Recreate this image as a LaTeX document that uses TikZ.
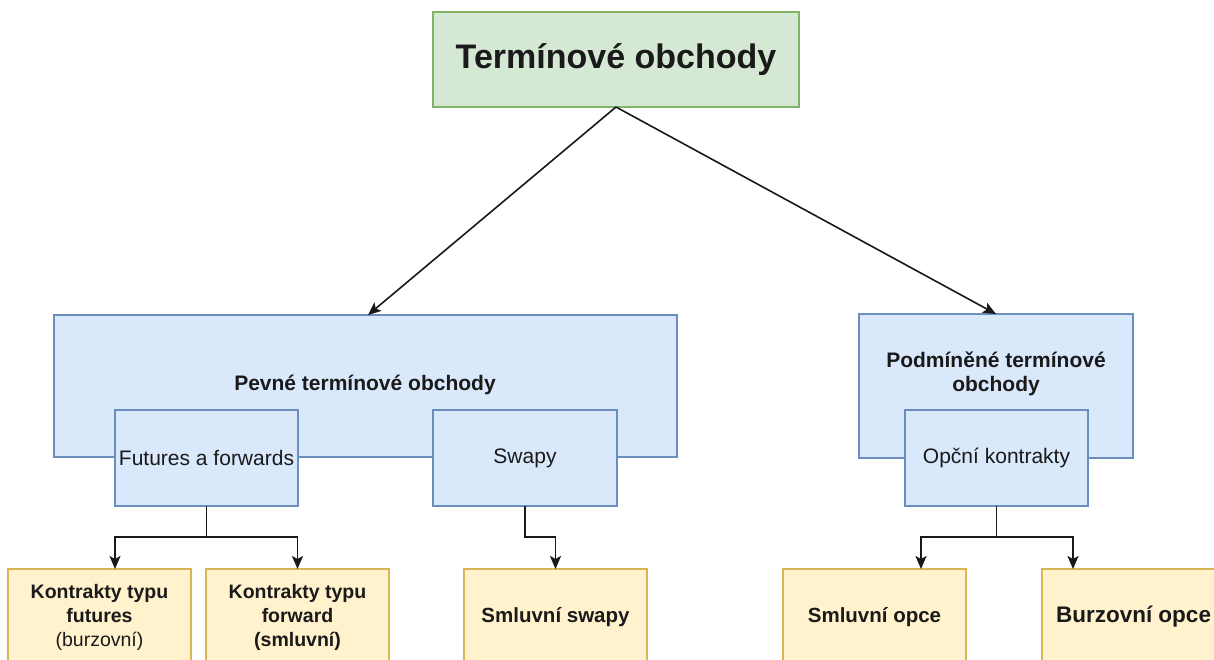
\documentclass[tikz,border=0pt]{standalone}
\usepackage{fontspec}
\setmainfont{Liberation Sans}
\usetikzlibrary{arrows.meta}
\definecolor{bluef}{HTML}{DAE8FC}
\definecolor{bluel}{HTML}{6C8EBF}
\definecolor{greenf}{HTML}{D5E8D4}
\definecolor{greenl}{HTML}{82B366}
\definecolor{yellf}{HTML}{FFF2CC}
\definecolor{yelll}{HTML}{D6B656}
\definecolor{txt}{HTML}{1A1A1A}
\begin{document}
\begin{tikzpicture}[x=1pt,y=-1pt,
  box/.style={rectangle, inner sep=0pt, outer sep=0pt, line width=1.3pt, text=txt, align=center},
  bluebox/.style={box, draw=bluel, fill=bluef},
  greenbox/.style={box, draw=greenl, fill=greenf},
  yellbox/.style={box, draw=yelll, fill=yellf, minimum width=183pt, minimum height=96pt},
  subbox/.style={bluebox, minimum width=183pt, minimum height=96pt, font=\fontsize{21}{25}\selectfont},
  lbl/.style={inner sep=0pt, text=txt, align=center},
  arr/.style={draw=black!90, line width=1.6pt, -{Stealth[length=13pt,width=11pt,inset=3pt]}},
  ybold/.style={font=\fontsize{19.5}{24}\selectfont\bfseries},
  ybig/.style={font=\fontsize{20.5}{24}\selectfont\bfseries}
]
\useasboundingbox (0,0) rectangle (1214,660);
\clip (0,0) rectangle (1214,660);
\fill[white] (0,0) rectangle (1214,660);

% top
\node[greenbox, minimum width=366pt, minimum height=95pt, font=\fontsize{34}{40}\selectfont\bfseries] (title) at (616,59.5) {Termínové obchody};

% big boxes
\node[bluebox, minimum width=623pt, minimum height=142pt] (pevne) at (365.5,386) {};
\node[lbl, font=\fontsize{21}{25}\selectfont\bfseries] (pevnet) at (365,385) {Pevné termínové obchody};
\node[bluebox, minimum width=274pt, minimum height=144pt] (podm) at (996,386) {};
\node[lbl, font=\fontsize{21}{24}\selectfont\bfseries] (podmt) at (996,374) {Podmíněné termínové\\obchody};

% sub boxes
\node[subbox] (fut) at (206.5,458) {Futures a forwards};
\node[subbox, minimum width=184pt] (swapy) at (525,458) {Swapy};
\node[subbox] (opcni) at (996.5,458) {Opční kontrakty};

% yellow boxes
\node[yellbox, ybold] (y1) at (99.5,617) {Kontrakty typu\\futures\\{\mdseries(burzovní)}};
\node[yellbox, ybold] (y2) at (297.5,617) {Kontrakty typu\\forward\\(smluvní)};
\node[yellbox, ybig] (y3) at (555.5,617) {Smluvní swapy};
\node[yellbox, ybig] (y4) at (874.5,617) {Smluvní opce};
\node[yellbox, font=\fontsize{22.5}{26}\selectfont\bfseries] (y5) at (1133.5,617) {Burzovní opce};

% connectors
\draw[arr] (title.south) -- ([xshift=2.5pt]pevne.north);
\draw[arr] (title.south) -- (podm.north);
\draw[arr] (fut.south) -- ++(0,31) -| ([xshift=15.5pt]y1.north);
\draw[arr] (fut.south) -- ++(0,31) -| (y2.north);
\draw[arr] (swapy.south) -- ++(0,31) -| (y3.north);
\draw[arr] (opcni.south) -- ++(0,31) -| ([xshift=46.5pt]y4.north);
\draw[arr] (opcni.south) -- ++(0,31) -| ([xshift=-60.5pt]y5.north);
\end{tikzpicture}
\end{document}
